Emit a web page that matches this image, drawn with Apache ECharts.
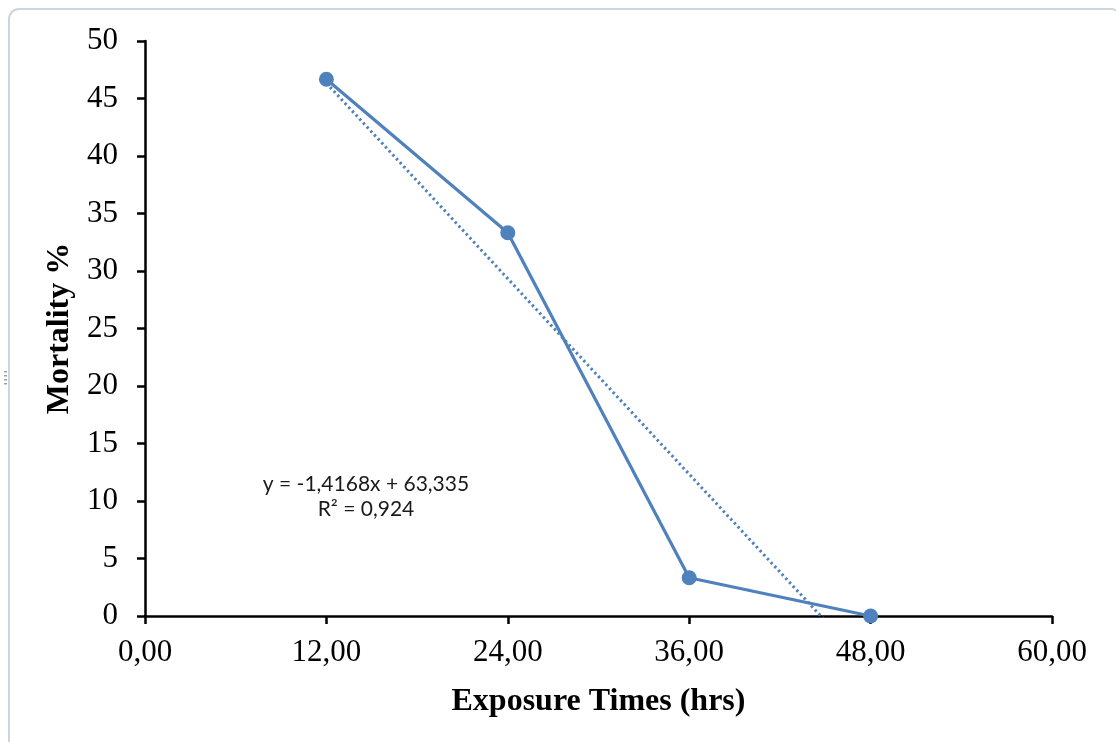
<!DOCTYPE html>
<html>
<head>
<meta charset="utf-8">
<title>Mortality vs Exposure Time</title>
<script src="https://cdn.jsdelivr.net/npm/echarts@6/dist/echarts.min.js"></script>
<style>
  html, body { margin: 0; padding: 0; background: #ffffff; }
  #chart { width: 1116px; height: 742px; }
</style>
</head>
<body>
<div id="chart"></div>
<script>
// Exposure times (hours) and observed mortality (%)
const exposureHours = [12, 24, 36, 48];
const mortality = [46.67, 33.33, 3.33, 0];

// Linear trend line reported on the chart
const trendSlope = -1.4168;
const trendIntercept = 63.335;
const trendText = ['y = -1,4168x + 63,335', 'R² = 0,924'];

// Axis tick labels
const xTickLabels = ['0,00', '12,00', '24,00', '36,00', '48,00', '60,00'];
const yTickLabels = ['0', '5', '10', '15', '20', '25', '30', '35', '40', '45', '50'];

const blue = '#4F81BD';
const serif = '"Liberation Serif", "Times New Roman", serif';

const points = exposureHours.map((x, i) => [x, mortality[i]]);
const xFirst = exposureHours[0];
const xLast = exposureHours[exposureHours.length - 1];
const trendPoints = [
  [xFirst, trendSlope * xFirst + trendIntercept],
  [xLast, trendSlope * xLast + trendIntercept]
];

const chart = echarts.init(document.getElementById('chart'), null, { renderer: 'canvas' });

chart.setOption({
  backgroundColor: '#ffffff',
  animation: false,
  grid: { left: 145, right: 64, top: 41, bottom: 126 },
  xAxis: {
    type: 'value',
    min: 0, max: 60, interval: 12,
    name: 'Exposure Times (hrs)',
    nameLocation: 'middle',
    nameGap: 70,
    nameTextStyle: { fontFamily: serif, fontWeight: 'bold', fontSize: 32, color: '#000' },
    axisLine: { show: true, onZero: false, lineStyle: { color: '#000', width: 2.5 } },
    axisTick: { show: true, length: 8, lineStyle: { color: '#000', width: 2.5 } },
    axisLabel: {
      margin: 21,
      fontFamily: serif, fontSize: 31, color: '#000',
      formatter: (v, i) => xTickLabels[i]
    },
    splitLine: { show: false }
  },
  yAxis: {
    type: 'value',
    min: 0, max: 50, interval: 5,
    name: 'Mortality %',
    nameLocation: 'middle',
    nameGap: 65,
    nameRotate: 90,
    nameTextStyle: { fontFamily: serif, fontWeight: 'bold', fontSize: 32, color: '#000' },
    axisLine: { show: true, lineStyle: { color: '#000', width: 2.5 } },
    axisTick: { show: true, length: 8, lineStyle: { color: '#000', width: 2.5 } },
    axisLabel: {
      margin: 27,
      fontFamily: serif, fontSize: 31, color: '#000',
      formatter: (v, i) => yTickLabels[i]
    },
    splitLine: { show: false }
  },
  series: [
    {
      name: 'Trend',
      type: 'line',
      data: trendPoints,
      symbol: 'none',
      clip: true,
      lineStyle: { color: blue, width: 3, type: [2.4, 3] },
      z: 2
    },
    {
      name: 'Mortality',
      type: 'line',
      data: points,
      symbol: 'circle',
      symbolSize: 15,
      clip: false,
      itemStyle: { color: blue },
      lineStyle: { color: blue, width: 3.2 },
      z: 3
    }
  ],
  graphic: [
    {
      // frame around the chart
      type: 'rect',
      silent: true,
      shape: { x: 9, y: 9, width: 1112, height: 760, r: 10 },
      style: { fill: 'none', stroke: '#cbd6da', lineWidth: 2 }
    },
    { type: 'rect', silent: true, shape: { x: 4, y: 371, width: 3, height: 1.5 }, style: { fill: '#9aa0a4' } },
    { type: 'rect', silent: true, shape: { x: 4, y: 375, width: 3, height: 1.5 }, style: { fill: '#9aa0a4' } },
    { type: 'rect', silent: true, shape: { x: 4, y: 379, width: 3, height: 1.5 }, style: { fill: '#9aa0a4' } },
    { type: 'rect', silent: true, shape: { x: 4, y: 383, width: 3, height: 1.5 }, style: { fill: '#9aa0a4' } },
    {
      type: 'text',
      silent: true,
      x: 366, y: 484,
      style: {
        text: trendText[0],
        fontFamily: 'Lato, "Noto Sans", sans-serif',
        fontSize: 21,
        fill: '#1a1a1a',
        align: 'center',
        verticalAlign: 'middle'
      }
    },
    {
      type: 'text',
      silent: true,
      x: 366, y: 509,
      style: {
        text: trendText[1],
        fontFamily: 'Lato, "Noto Sans", sans-serif',
        fontSize: 21,
        fill: '#1a1a1a',
        align: 'center',
        verticalAlign: 'middle'
      }
    }
  ]
});
</script>
</body>
</html>
